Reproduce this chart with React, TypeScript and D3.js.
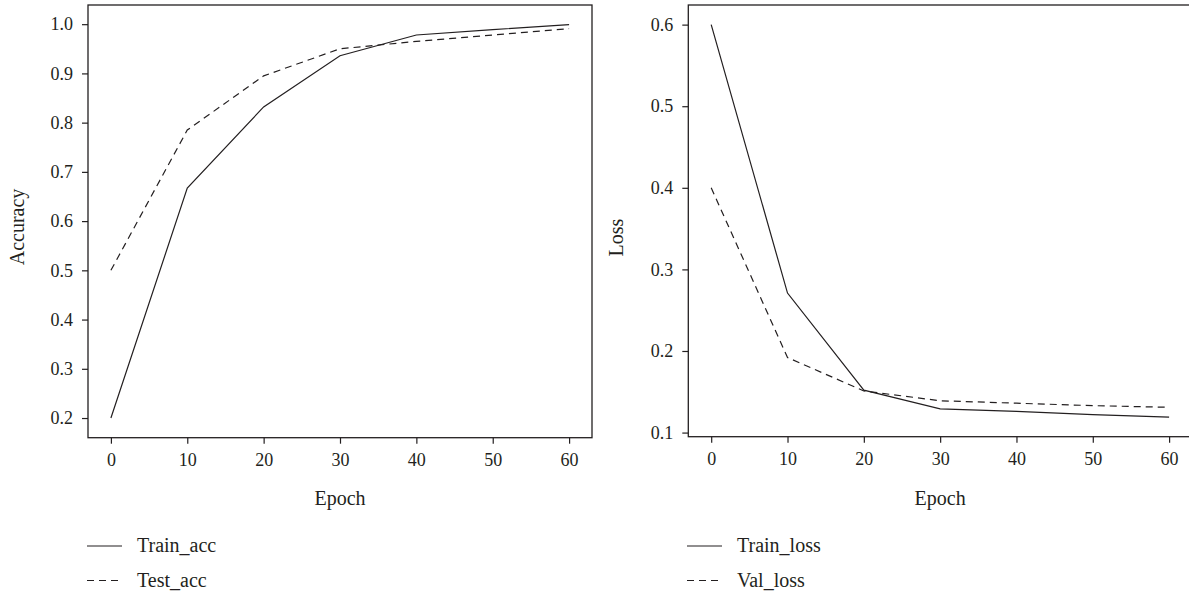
import React from 'react';
import * as d3 from 'd3';

// metrics logged every 10 epochs
const epochs = [0, 10, 20, 30, 40, 50, 60];

const trainAcc = [0.2, 0.667, 0.832, 0.936, 0.978, 0.989, 0.999];
const testAcc = [0.5, 0.785, 0.895, 0.95, 0.965, 0.978, 0.991];
const trainLoss = [0.6, 0.271, 0.152, 0.129, 0.126, 0.122, 0.119];
const valLoss = [0.4, 0.192, 0.151, 0.139, 0.136, 0.133, 0.131];

const xTicks = [0, 10, 20, 30, 40, 50, 60];
const accTicks = [0.2, 0.3, 0.4, 0.5, 0.6, 0.7, 0.8, 0.9, 1.0];
const lossTicks = [0.1, 0.2, 0.3, 0.4, 0.5, 0.6];

const INK = '#231f20';
const FONT = '"Liberation Serif", "DejaVu Serif", serif';

export default class App extends React.Component {
    constructor(props) {
        super(props);
        this.width = 1189;
        this.height = 595;
        this.drawPanel = this.drawPanel.bind(this);
    }

    componentDidMount() {
        let svg = d3.select('#training-curves');
        svg.selectAll('*').remove();

        this.drawPanel(svg, {
            left: 88, right: 592, top: 5, bottom: 437.7,
            ticks: accTicks, yTitle: 'Accuracy', yTitleX: 24, yTitleY: 227,
            series: [
                { name: 'Train_acc', values: trainAcc, dash: null },
                { name: 'Test_acc', values: testAcc, dash: '7,5' },
            ],
            legendX: 87,
        });

        this.drawPanel(svg, {
            left: 688.3, right: 1192, top: 5, bottom: 436.7,
            ticks: lossTicks, yTitle: 'Loss', yTitleX: 623, yTitleY: 237.5,
            series: [
                { name: 'Train_loss', values: trainLoss, dash: null },
                { name: 'Val_loss', values: valLoss, dash: '7,5' },
            ],
            legendX: 687,
        });
    }

    drawPanel(svg, p) {
        let g = svg.append('g');

        // 5% padding around the data like R's default plot range
        let xExt = d3.extent(epochs);
        let xPad = (xExt[1] - xExt[0]) * 0.05;
        let x = d3.scaleLinear()
            .domain([xExt[0] - xPad, xExt[1] + xPad])
            .range([p.left, p.right]);

        let allValues = [];
        p.series.forEach(s => s.values.forEach(v => allValues.push(v)));
        let yExt = d3.extent(allValues);
        let yPad = (yExt[1] - yExt[0]) * 0.05;
        let y = d3.scaleLinear()
            .domain([yExt[0] - yPad, yExt[1] + yPad])
            .range([p.bottom, p.top]);

        let xAxis = d3.axisBottom(x).tickValues(xTicks).tickSize(6).tickPadding(10)
            .tickFormat(d3.format('d'));
        let yAxis = d3.axisLeft(y).tickValues(p.ticks).tickSize(6).tickPadding(9)
            .tickFormat(d3.format('.1f'));

        let styleAxis = sel => {
            sel.select('.domain').remove();
            sel.selectAll('.tick line').attr('stroke', INK).attr('stroke-width', 1.2);
            sel.selectAll('.tick text')
                .attr('fill', INK)
                .style('font-family', FONT)
                .style('font-size', '18px');
        };

        g.append('g')
            .attr('transform', `translate(0,${p.bottom})`)
            .call(xAxis)
            .call(styleAxis);

        g.append('g')
            .attr('transform', `translate(${p.left},0)`)
            .call(yAxis)
            .call(styleAxis);

        // plot box
        g.append('rect')
            .attr('x', p.left)
            .attr('y', p.top)
            .attr('width', p.right - p.left)
            .attr('height', p.bottom - p.top)
            .attr('fill', 'none')
            .attr('stroke', INK)
            .attr('stroke-width', 1.3);

        let line = d3.line()
            .x((d, i) => x(epochs[i]))
            .y(d => y(d));

        p.series.forEach(s => {
            g.append('path')
                .datum(s.values)
                .attr('d', line)
                .attr('fill', 'none')
                .attr('stroke', INK)
                .attr('stroke-width', 1.2)
                .attr('stroke-dasharray', s.dash);
        });

        // axis titles
        g.append('text')
            .attr('x', (p.left + Math.min(p.right, p.left + 504)) / 2)
            .attr('y', 505)
            .attr('text-anchor', 'middle')
            .attr('fill', INK)
            .style('font-family', FONT)
            .style('font-size', '20px')
            .text('Epoch');

        g.append('text')
            .attr('transform', `translate(${p.yTitleX},${p.yTitleY}) rotate(-90)`)
            .attr('text-anchor', 'middle')
            .attr('fill', INK)
            .style('font-family', FONT)
            .style('font-size', '20px')
            .text(p.yTitle);

        // legend below the plot
        p.series.forEach((s, i) => {
            let ly = 546 + i * 34.5;
            g.append('line')
                .attr('x1', p.legendX)
                .attr('x2', p.legendX + 35)
                .attr('y1', ly)
                .attr('y2', ly)
                .attr('stroke', INK)
                .attr('stroke-width', 1.2)
                .attr('stroke-dasharray', s.dash);
            g.append('text')
                .attr('x', p.legendX + 50)
                .attr('y', ly + 6)
                .attr('fill', INK)
                .style('font-family', FONT)
                .style('font-size', '20px')
                .text(s.name);
        });
    }

    render() {
        return (
            <svg id="training-curves" width={this.width} height={this.height}
                style={{ position: 'absolute', left: 0, top: 0, background: 'white' }} />
        );
    }
}
